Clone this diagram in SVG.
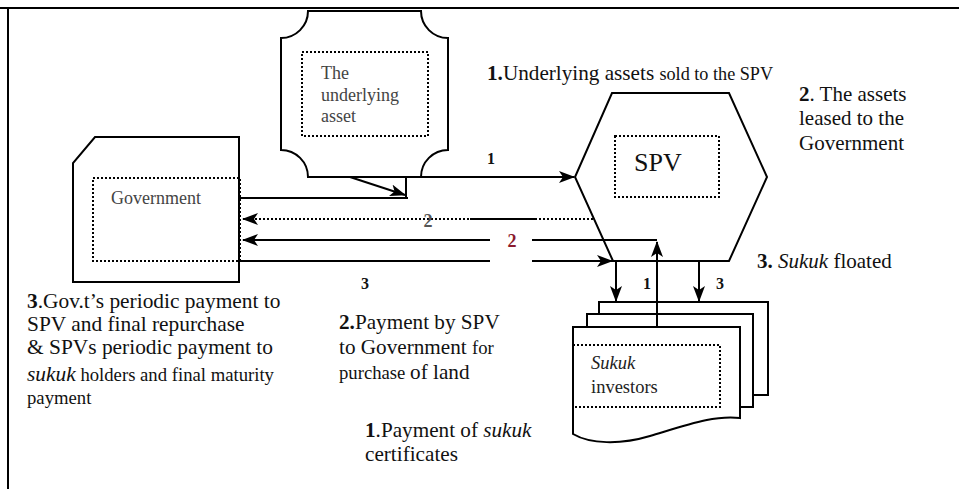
<svg xmlns="http://www.w3.org/2000/svg" width="959" height="489" viewBox="0 0 959 489">
<style>
.shape{fill:#fff;stroke:#000;stroke-width:2}
.inner{fill:none;stroke:#000;stroke-width:2;stroke-dasharray:2 2}
.ln{fill:none;stroke:#000;stroke-width:2}
.dot{fill:none;stroke:#000;stroke-width:2;stroke-dasharray:2 2}
</style>
<defs>
<marker id="ah" markerWidth="16" markerHeight="12" refX="15" refY="6" orient="auto" markerUnits="userSpaceOnUse">
<path d="M0,0 L16,6 L0,12 L4,6 Z" fill="#000"/>
</marker>
</defs>
<rect width="959" height="489" fill="#fff"/>
<path class="ln" d="M0,8 H959 M8,8 V489" stroke-width="2.5"/>

<g id="asset">
<path class="shape" d="M308,11 H421 A27,27 0 0 0 448,38 V150 A27,27 0 0 0 421,177 H308 A27,27 0 0 0 281,150 V38 A27,27 0 0 0 308,11 Z"/>
<rect class="inner" x="302" y="52" width="126" height="84"/>
<text font-family="Liberation Serif" fill="#444" x="321" y="79" font-size="18">The</text>
<text font-family="Liberation Serif" fill="#444" x="321" y="101" font-size="18">underlying</text>
<text font-family="Liberation Serif" fill="#444" x="321" y="122" font-size="18">asset</text>
</g>

<g id="spv">
<path class="shape" d="M612,93 H729 L767,177 L729,261 H613 L575,177 Z"/>
<rect class="inner" x="615" y="136" width="104" height="61"/>
<text font-family="Liberation Serif" fill="#111" x="634" y="171" font-size="26">SPV</text>
</g>

<g id="government">
<path class="shape" d="M95,137 H239 V282 H73 V163 Z"/>
<rect class="inner" x="93" y="178" width="147" height="83"/>
<text font-family="Liberation Serif" fill="#444" x="111" y="204" font-size="18">Government</text>
</g>

<g id="sukuk">
<rect class="shape" x="599" y="302" width="169" height="93"/>
<rect class="shape" x="587" y="314" width="166" height="93"/>
<path class="shape" d="M573,327 H740 V418 C715,415 690,424 650,436 C620,445 590,444 573,434 Z"/>
<rect class="inner" x="573" y="345" width="147" height="62"/>
<text font-family="Liberation Serif" fill="#222" font-style="italic" x="591" y="369" font-size="18.5">Sukuk</text>
<text font-family="Liberation Serif" fill="#222" x="591" y="393" font-size="18.5">investors</text>
</g>

<g id="connectors">
<path class="ln" d="M421,177 H574" marker-end="url(#ah)"/>
<path class="ln" d="M350,177 L405,195" marker-end="url(#ah)"/>
<path class="ln" d="M406,177 V198 M240,198 H408"/>
<path class="dot" d="M593,219 H243" marker-end="url(#ah)"/>
<path class="ln" d="M470,219 H535"/>
<path class="ln" d="M490,240 H243" marker-end="url(#ah)"/>
<path class="ln" d="M532,240 H657"/>
<path class="ln" d="M657,327 V242" marker-end="url(#ah)"/>
<path class="ln" d="M240,261 H490"/>
<path class="ln" d="M532,261 H612" marker-end="url(#ah)"/>
<path class="ln" d="M612,261 H728"/>
<path class="ln" d="M616,261 V301" marker-end="url(#ah)"/>
<path class="ln" d="M699,261 V301" marker-end="url(#ah)"/>
</g>

<g id="labels">
<text font-family="Liberation Serif" fill="#111" font-weight="bold" x="487" y="164" font-size="16">1</text>
<text font-family="Liberation Serif" fill="#555" font-weight="bold" x="428" y="227" font-size="18" text-anchor="middle">2</text>
<text font-family="Liberation Serif" font-weight="bold" x="512" y="247" font-size="18" text-anchor="middle" fill="#8b1a2e">2</text>
<text font-family="Liberation Serif" fill="#111" font-weight="bold" x="361" y="289" font-size="16">3</text>
<text font-family="Liberation Serif" fill="#111" font-weight="bold" x="643" y="289" font-size="16">1</text>
<text font-family="Liberation Serif" fill="#111" font-weight="bold" x="716" y="289" font-size="16">3</text>

<text font-family="Liberation Serif" fill="#111" x="487" y="80" font-size="21.2"><tspan font-weight="bold">1.</tspan>Underlying assets <tspan font-size="18.2">sold to the SPV</tspan></text>

<text font-family="Liberation Serif" fill="#111" x="799" y="101" font-size="21"><tspan font-weight="bold">2</tspan>. The assets</text>
<text font-family="Liberation Serif" fill="#111" x="799" y="125" font-size="21">leased to the</text>
<text font-family="Liberation Serif" fill="#111" x="799" y="150" font-size="21">Government</text>

<text font-family="Liberation Serif" fill="#111" x="757" y="268" font-size="21"><tspan font-weight="bold">3.</tspan> <tspan font-style="italic">Sukuk</tspan> floated</text>

<text font-family="Liberation Serif" fill="#111" x="27" y="308" font-size="21.4"><tspan font-weight="bold">3</tspan>.Gov.t’s periodic payment to</text>
<text font-family="Liberation Serif" fill="#111" x="27" y="331" font-size="21.4">SPV and final repurchase</text>
<text font-family="Liberation Serif" fill="#111" x="27" y="354" font-size="21.4">&amp; SPVs periodic payment to</text>
<text font-family="Liberation Serif" fill="#111" x="27" y="381" font-size="18.7"><tspan font-style="italic" font-size="21.4">sukuk</tspan> holders and final maturity</text>
<text font-family="Liberation Serif" fill="#111" x="27" y="404" font-size="18.7">payment</text>

<text font-family="Liberation Serif" fill="#111" x="339" y="329" font-size="21.2"><tspan font-weight="bold">2.</tspan>Payment by SPV</text>
<text font-family="Liberation Serif" fill="#111" x="339" y="354" font-size="21.2">to Government <tspan font-size="18.7">for</tspan></text>
<text font-family="Liberation Serif" fill="#111" x="339" y="379" font-size="18.7">purchase <tspan font-size="21.2">of land</tspan></text>

<text font-family="Liberation Serif" fill="#111" x="365" y="437" font-size="21.2"><tspan font-weight="bold">1</tspan>.Payment of <tspan font-style="italic">sukuk</tspan></text>
<text font-family="Liberation Serif" fill="#111" x="365" y="461" font-size="21.2">certificates</text>
</g>
</svg>
